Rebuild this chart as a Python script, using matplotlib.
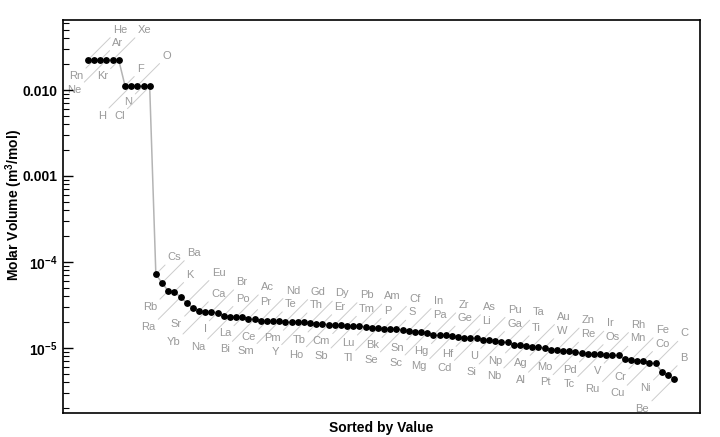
import numpy as np
import matplotlib.pyplot as plt
from matplotlib.ticker import LogLocator, NullFormatter

plt.rcParams['font.family'] = ['Liberation Sans', 'DejaVu Sans']
plt.rcParams['mathtext.fontset'] = 'custom'
plt.rcParams['mathtext.rm'] = 'Liberation Sans:bold'
plt.rcParams['mathtext.it'] = 'Liberation Sans:bold'
plt.rcParams['mathtext.bf'] = 'Liberation Sans:bold'

# gases first (m^3/mol), then the condensed elements, sorted by value
gas_names = ['He', 'Rn', 'Ar', 'Ne', 'Xe', 'Kr', 'F', 'H', 'O', 'N', 'Cl']
gas_volumes = [0.0224, 0.0224, 0.0224, 0.0224, 0.0223, 0.0221,
               0.0112, 0.0112, 0.0112, 0.0112, 0.0110]

solid_names = ['Cs',
               'Ba', 'Rb', 'K', 'Ra', 'Eu', 'Sr', 'Ca', 'Yb', 'Br', 'I', 'Po', 'Na',
               'Ac', 'La', 'Pr', 'Bi', 'Nd', 'Ce', 'Te', 'Sm', 'Gd', 'Pm', 'Th', 'Y',
               'Dy', 'Tb', 'Er', 'Ho', 'Pb', 'Cm', 'Tm', 'Sb', 'Am', 'Lu', 'P', 'Tl',
               'Cf', 'Bk', 'S', 'Se', 'In', 'Sn', 'Pa', 'Sc', 'Zr', 'Hg', 'Ge', 'Mg',
               'As', 'Hf', 'Li', 'Cd', 'Pu', 'U', 'Ga', 'Si', 'Ta', 'Np', 'Ti', 'Nb',
               'Au', 'Ag', 'W', 'Al', 'Zn', 'Mo', 'Re', 'Pt', 'Ir', 'Pd', 'Os', 'Tc',
               'Rh', 'V', 'Mn', 'Ru', 'Fe', 'Cr', 'Co', 'Cu', 'C', 'Ni', 'B', 'Be']
solid_volumes = [7.2e-5, 5.7e-5, 4.6e-5, 4.5e-5, 3.9e-5, 3.35e-5, 2.92e-5, 2.68e-5,
                 2.63e-5, 2.61e-5, 2.58e-5, 2.37e-5, 2.30e-5, 2.28e-5, 2.26e-5, 2.18e-5,
                 2.16e-5, 2.07e-5, 2.06e-5, 2.05e-5, 2.04e-5, 2.01e-5, 2.00e-5, 1.99e-5,
                 1.98e-5, 1.93e-5, 1.91e-5, 1.90e-5, 1.87e-5, 1.85e-5, 1.83e-5, 1.82e-5,
                 1.81e-5, 1.78e-5, 1.76e-5, 1.72e-5, 1.70e-5, 1.68e-5, 1.65e-5, 1.64e-5,
                 1.63e-5, 1.58e-5, 1.55e-5, 1.52e-5, 1.50e-5, 1.41e-5, 1.40e-5, 1.40e-5,
                 1.36e-5, 1.34e-5, 1.30e-5, 1.30e-5, 1.30e-5, 1.25e-5, 1.23e-5, 1.21e-5,
                 1.18e-5, 1.16e-5, 1.09e-5, 1.08e-5, 1.06e-5, 1.03e-5, 1.02e-5, 1.00e-5,
                 9.47e-6, 9.38e-6, 9.16e-6, 9.09e-6, 8.86e-6, 8.63e-6, 8.56e-6, 8.52e-6,
                 8.42e-6, 8.32e-6, 8.28e-6, 8.17e-6, 7.35e-6, 7.23e-6, 7.11e-6, 7.09e-6,
                 6.67e-6, 6.59e-6, 5.29e-6, 4.85e-6, 4.39e-6]

names = gas_names + solid_names
volumes = gas_volumes + solid_volumes
x = np.arange(len(volumes))

# callout placement: far/near above, near/far below (pixel offsets)
offsets = {'FA': (25, 25), 'NA': (12, 12), 'NB': (-11, -11), 'FB': (-25, -25)}
cycle = ['FA', 'NB', 'NA', 'FB']
slots = [cycle[i % 4] for i in range(len(gas_names))]
slots[-1] = 'FB'
slots += ['NA'] + [cycle[k % 4] for k in range(len(solid_names) - 1)]

fig = plt.figure(figsize=(7.2, 4.37), dpi=100)
ax = fig.add_axes([63/720, 1 - 413/437, 637/720, 393/437])

ax.plot(x, volumes, '-', color='#b4b4b4', lw=1.1, zorder=2)
ax.plot(x, volumes, 'o', color='black', ms=3.9, zorder=3)

for xi, v, name, s in zip(x, volumes, names, slots):
    dx, dy = offsets[s]
    above = dy > 0
    ax.annotate(name, xy=(xi, v), xytext=(dx, dy), textcoords='offset pixels',
                ha='left' if above else 'right', va='bottom' if above else 'top',
                fontsize=8, color='#999999', zorder=1,
                arrowprops=dict(arrowstyle='-', color='#cccccc', lw=0.7,
                                shrinkA=0, shrinkB=2,
                                relpos=(0, 0) if above else (1, 1)))

ax.set_yscale('log')
ax.set_ylim(1.75e-6, 0.0652)
ax.set_xlim(-4.05, 99.2)
ax.set_yticks([1e-5, 1e-4, 1e-3, 1e-2])
ax.set_yticklabels([r'$10^{-5}$', r'$10^{-4}$', '0.001', '0.010'], fontweight='bold')
ax.yaxis.set_minor_locator(LogLocator(base=10, subs=np.arange(2, 10), numticks=20))
ax.yaxis.set_minor_formatter(NullFormatter())
ax.tick_params(axis='y', which='major', direction='in', length=7, width=1,
               labelsize=10, pad=4)
ax.tick_params(axis='y', which='minor', direction='in', length=4, width=0.8)
ax.tick_params(axis='x', bottom=False, labelbottom=False)
for sp in ax.spines.values():
    sp.set_linewidth(1.2)

ax.set_xlabel('Sorted by Value', fontweight='bold', fontsize=10, labelpad=6)
ax.set_ylabel('Molar Volume (m$^3$/mol)', fontweight='bold', fontsize=10)
ax.yaxis.set_label_coords(-0.06, 0.53)

fig.savefig('out.png', dpi=100)
